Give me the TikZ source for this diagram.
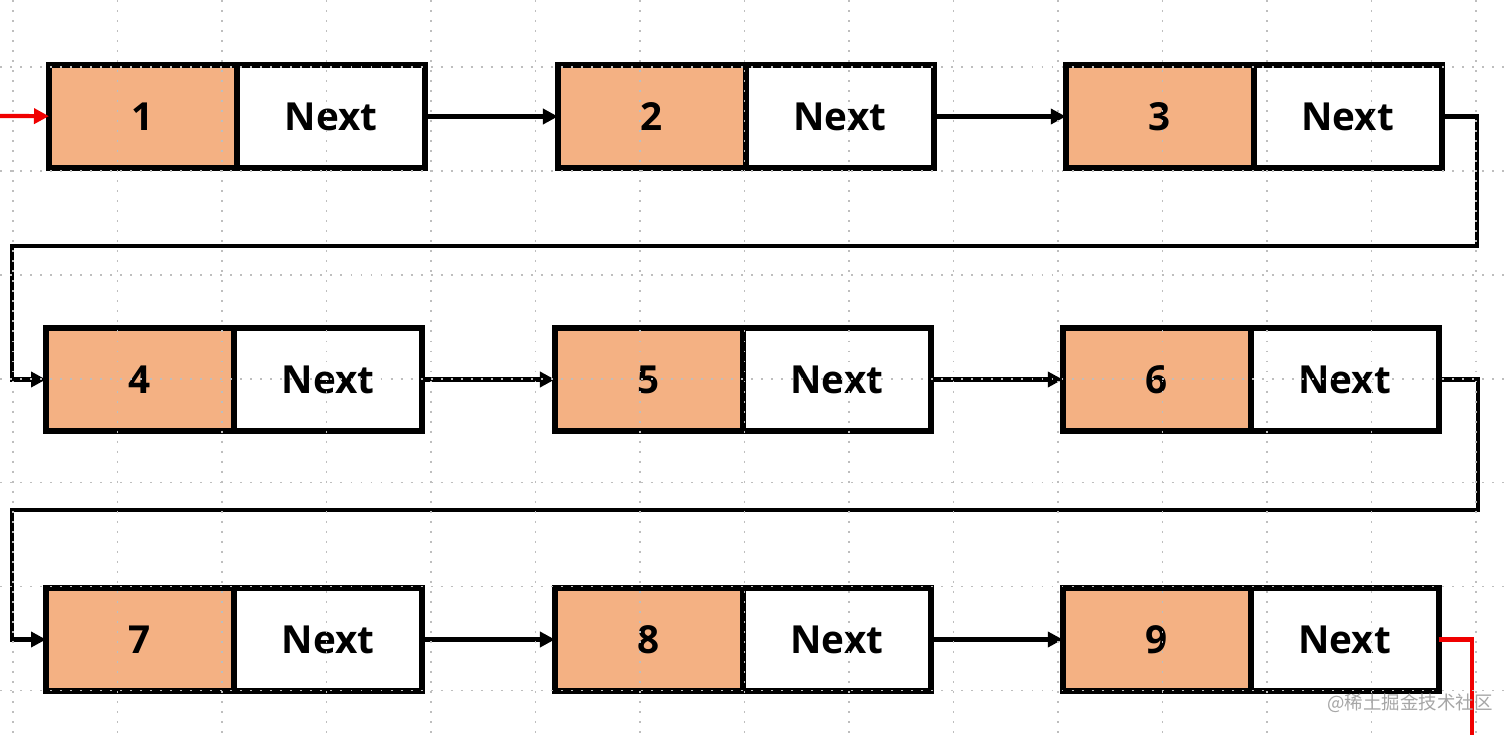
\documentclass[tikz,border=0pt]{standalone}
\usepackage{fontspec}
\setmainfont{Open Sans}
\newfontfamily\cjkfont{Noto Sans CJK SC}
\usepackage{xcolor}
\usetikzlibrary{positioning,arrows.meta}
\definecolor{valfill}{HTML}{F4B183}
\definecolor{griddot}{HTML}{BEBEBE}
\definecolor{headred}{HTML}{F00000}

\begin{document}
\begin{tikzpicture}[x=0.02cm, y=-0.02cm,
   valbox/.style={draw, line width=3.3pt, fill=valfill, outer sep=0pt,
                  minimum width=3.76cm, minimum height=2.06cm,
                  font=\fontsize{22}{26}\selectfont\bfseries},
   nextbox/.style={valbox, fill=none},
   link/.style={->, line width=2.6pt},
   headlink/.style={->, line width=2.4pt, draw=headred},
   gridline/.style={draw=griddot, line width=0.9pt, dash pattern=on 1.1pt off 4.6pt},
   >={Triangle[length=0.3cm, width=0.3cm]}]
  \useasboundingbox (0,0) rectangle (1512,735);
  \fill[white] (0,0) rectangle (1512,735);

  % row 1
  \node[valbox, anchor=north west] (v1) at (49,65) {1};
  \node[nextbox, right=0pt of v1] (n1) {Next};
  \node[valbox, right=2.66cm of n1] (v2) {2};
  \node[nextbox, right=0pt of v2] (n2) {Next};
  \node[valbox, right=2.64cm of n2] (v3) {3};
  \node[nextbox, right=0pt of v3] (n3) {Next};
  % row 2
  \node[valbox, anchor=north west] (v4) at (46,328) {4};
  \node[nextbox, right=0pt of v4] (n4) {Next};
  \node[valbox, right=2.66cm of n4] (v5) {5};
  \node[nextbox, right=0pt of v5] (n5) {Next};
  \node[valbox, right=2.64cm of n5] (v6) {6};
  \node[nextbox, right=0pt of v6] (n6) {Next};
  % row 3
  \node[valbox, anchor=north west] (v7) at (46,588) {7};
  \node[nextbox, right=0pt of v7] (n7) {Next};
  \node[valbox, right=2.66cm of n7] (v8) {8};
  \node[nextbox, right=0pt of v8] (n8) {Next};
  \node[valbox, right=2.64cm of n8] (v9) {9};
  \node[nextbox, right=0pt of v9] (n9) {Next};

  \coordinate (head) at (0,116);
  \coordinate (r1) at (1477,246);
  \coordinate (l1) at (12,246);
  \coordinate (r2) at (1478,510);
  \coordinate (l2) at (12,510);
  \coordinate (tail) at (1472,735);

  \draw[headlink] (head) -- (v1);
  \draw[link] (n1) -- (v2);
  \draw[link] (n2) -- (v3);
  \draw[link] (n3.east) -| (r1) -- (l1) |- (v4.west);
  \draw[link] (n4) -- (v5);
  \draw[link] (n5) -- (v6);
  \draw[link] (n6.east) -| (r2) -- (l2) |- (v7.west);
  \draw[link] (n7) -- (v8);
  \draw[link] (n8) -- (v9);
  \draw[line width=2.4pt, draw=headred] (n9.east) -| (tail);

  % dotted grid over everything
  \foreach \gx in {0,...,14}
    \draw[gridline] (13+\gx*104.5,0) -- (13+\gx*104.5,735);
  \foreach \gy in {0,...,6}
    \draw[gridline] (0,67+\gy*103.9) -- (1512,67+\gy*103.9);

  \node[text=gray!70, font=\cjkfont\fontsize{10.5}{12}\selectfont] (mark) at (1410,703) {@稀土掘金技术社区};
\end{tikzpicture}
\end{document}
